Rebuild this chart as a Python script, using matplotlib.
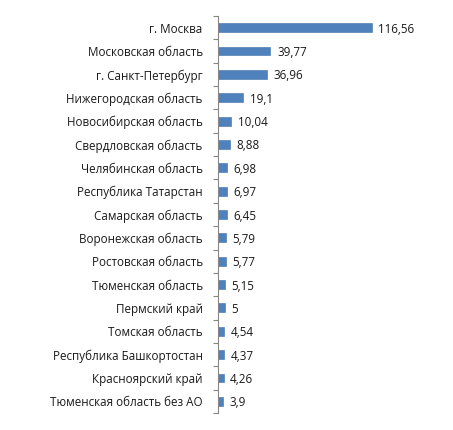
import matplotlib.pyplot as plt
import numpy as np

regions = ["г. Москва", "Московская область", "г. Санкт-Петербург", "Нижегородская область",
           "Новосибирская область", "Свердловская область", "Челябинская область",
           "Республика Татарстан", "Самарская область", "Воронежская область",
           "Ростовская область", "Тюменская область", "Пермский край", "Томская область",
           "Республика Башкортостан", "Красноярский край", "Тюменская область без АО"]
values = [116.56, 39.77, 36.96, 19.1, 10.04, 8.88, 6.98, 6.97, 6.45, 5.79,
          5.77, 5.15, 5, 4.54, 4.37, 4.26, 3.9]

plt.rcParams['font.family'] = ['Open Sans', 'DejaVu Sans']

fig = plt.figure(figsize=(4.53, 4.30), dpi=100)
ax = fig.add_axes([218 / 453, 17 / 430, 222 / 453, 397 / 430])

y = np.arange(len(regions))
ax.barh(y, values, height=0.38, color="#4F81BD", edgecolor="#3F6FAA", linewidth=0.4)

for yi, v in zip(y, values):
    txt = f"{v:g}".replace(".", ",")
    ax.text(v + 5.0, yi, txt, va="center_baseline", ha="left", fontsize=8.4, color="#1a1a1a")

ax.set_xlim(0, 222 / 1.32)
ax.set_ylim(len(regions) - 0.5, -0.5)

ax.set_yticks(y)
ax.set_yticklabels(regions, fontsize=8.4, color="#1a1a1a", va="center_baseline")
ax.tick_params(axis="y", which="major", length=0, pad=11)
ax.set_yticks(np.arange(len(regions) + 1) - 0.5, minor=True)
ax.tick_params(axis="y", which="minor", length=3.5, width=0.8, color="#868686")
ax.set_xticks([])

for s in ["top", "right", "bottom"]:
    ax.spines[s].set_visible(False)
ax.spines["left"].set_color("#868686")
ax.spines["left"].set_linewidth(0.8)

fig.savefig("out.png", dpi=100)
